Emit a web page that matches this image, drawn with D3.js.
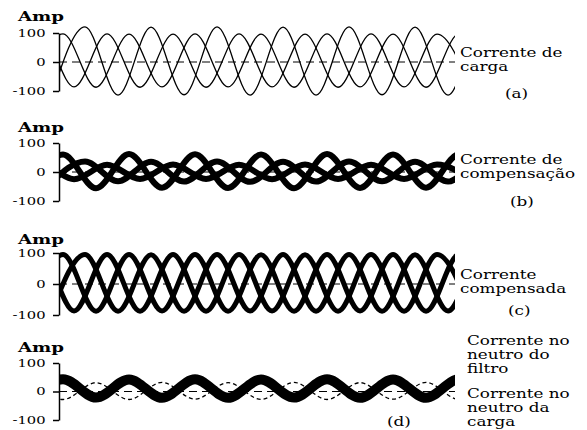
<!DOCTYPE html>
<html>
<head>
<meta charset="utf-8">
<script src="https://cdn.jsdelivr.net/npm/d3@7"></script>
<style>
body { margin: 0; background: #fff; }
svg { display: block; }
text { font-family: "DejaVu Serif", serif; fill: #000; }
</style>
</head>
<body>
<svg id="chart"></svg>
<script>
const width = 587;
const height = 430;

// electrical angle (deg) of each valley/peak; phases shifted by phaseShift
const extremaAngles = [-180, 0, 180, 360, 540, 720, 900, 1080, 1260, 1440, 1620, 1800, 1980, 2160, 2340];
const phaseShift = [0, 120, -120];

// (a) corrente de carga
const loadA = [-86, 97, -87, 96, -86, 97, -86, 96, -87, 97, -86, 96, -87, 97, -86];
const loadB = [-113, 121, -114, 120, -113, 121, -114, 120, -114, 121, -113, 120, -114, 121, -113];
const loadC = [-87, 96, -86, 97, -87, 96, -87, 97, -86, 96, -87, 97, -86, 96, -87];

// (b) corrente de compensação
const compA = [-55, 60, -56, 62, -54, 61, -55, 60, -56, 62, -55, 60, -54, 61, -55];
const compB = [-33, 36, -32, 35, -33, 36, -34, 35, -33, 36, -32, 35, -33, 36, -33];
const compC = [-24, 26, -25, 25, -24, 26, -24, 25, -25, 26, -24, 25, -24, 26, -25];

// (c) corrente compensada
const compdA = [-88, 95, -88, 95, -87, 95, -88, 94, -88, 95, -87, 95, -88, 95, -88];
const compdB = [-87, 95, -88, 94, -88, 95, -87, 95, -88, 95, -88, 94, -87, 95, -88];
const compdC = [-88, 94, -87, 95, -88, 95, -88, 95, -87, 94, -88, 95, -88, 95, -87];

// (d) neutro do filtro / neutro da carga
const filterNeutral = [-22, 43, -21, 42, -22, 43, -22, 42, -21, 43, -22, 42, -22, 43, -21];
const loadNeutral = [32, -28, 31, -28, 32, -27, 31, -28, 32, -28, 31, -27, 32, -28, 31];

const yTicks = [-100, 0, 100];

// the scanned figure is stretched horizontally, so is the text
const stretch = 1.4;

const panels = [
    {
        y100: 33, y0: 91, ampY: 21,
        series: [
            { values: loadA, shift: phaseShift[0], width: 1.3 },
            { values: loadB, shift: phaseShift[1], width: 1.3 },
            { values: loadC, shift: phaseShift[2], width: 1.3 }
        ],
        texts: [
            { x: 460, y: 57, t: "Corrente de" },
            { x: 460, y: 71, t: "carga" },
            { x: 505, y: 98, t: "(a)" }
        ]
    },
    {
        y100: 143, y0: 201, ampY: 132,
        series: [
            { values: compA, shift: phaseShift[0], width: 6 },
            { values: compB, shift: phaseShift[1], width: 6 },
            { values: compC, shift: phaseShift[2], width: 6 }
        ],
        texts: [
            { x: 460, y: 164, t: "Corrente de" },
            { x: 460, y: 178, t: "compensação" },
            { x: 510, y: 206, t: "(b)" }
        ]
    },
    {
        y100: 253, y0: 315, ampY: 244,
        series: [
            { values: compdA, shift: phaseShift[0], width: 5 },
            { values: compdB, shift: phaseShift[1], width: 5 },
            { values: compdC, shift: phaseShift[2], width: 5 }
        ],
        texts: [
            { x: 460, y: 279, t: "Corrente" },
            { x: 460, y: 293, t: "compensada" },
            { x: 508, y: 315, t: "(c)" }
        ]
    },
    {
        y100: 363, y0: 420, ampY: 352,
        series: [
            { values: loadNeutral, shift: 0, width: 1.3, dash: "4,3" },
            { values: filterNeutral, shift: 0, width: 10 }
        ],
        texts: [
            { x: 467, y: 345, t: "Corrente no" },
            { x: 467, y: 359, t: "neutro do" },
            { x: 467, y: 373, t: "filtro" },
            { x: 467, y: 398, t: "Corrente no" },
            { x: 467, y: 412, t: "neutro da" },
            { x: 467, y: 426, t: "carga" },
            { x: 387, y: 426, t: "(d)" }
        ]
    }
];

const svg = d3.select("#chart")
    .attr("width", width)
    .attr("height", height);

const x = d3.scaleLinear()
    .domain([-22, 2138])
    .range([59, 455]);

svg.append("clipPath")
    .attr("id", "clip")
    .append("rect")
    .attr("x", 59).attr("y", 0)
    .attr("width", 396).attr("height", height);

panels.forEach(p => {
    const y = d3.scaleLinear()
        .domain([-100, 100])
        .range([p.y0, p.y100]);

    const g = svg.append("g");

    // zero line
    g.append("line")
        .attr("x1", x.range()[0]).attr("x2", x.range()[1])
        .attr("y1", y(0)).attr("y2", y(0))
        .attr("stroke", "#000")
        .attr("stroke-width", 1)
        .attr("stroke-dasharray", "8,5");

    const line = d3.line()
        .x(d => x(d.angle))
        .y(d => y(d.value))
        .curve(d3.curveMonotoneX);

    p.series.forEach(s => {
        const pts = s.values.map((v, i) => ({ angle: extremaAngles[i] + s.shift, value: v }));
        g.append("path")
            .datum(pts)
            .attr("clip-path", "url(#clip)")
            .attr("fill", "none")
            .attr("stroke", "#000")
            .attr("stroke-width", s.width)
            .attr("stroke-dasharray", s.dash || null)
            .attr("d", line);
    });

    const axis = g.append("g")
        .attr("transform", `translate(${x.range()[0]},0)`)
        .call(d3.axisLeft(y).tickValues(yTicks).tickSize(6).tickSizeOuter(0).tickFormat(d => String(d)));
    axis.select(".domain").attr("stroke-width", 1.5);
    axis.selectAll(".tick line").attr("stroke-width", 1.5);
    axis.selectAll(".tick text")
        .attr("x", 0)
        .attr("transform", `translate(-13.5,0) scale(${stretch},1)`)
        .style("font-family", "DejaVu Serif")
        .style("font-size", "10.5px");

    g.append("text")
        .attr("transform", `translate(18,${p.ampY}) scale(${stretch},1)`)
        .style("font-size", "13px")
        .style("font-weight", "bold")
        .text("Amp");

    p.texts.forEach(t => {
        g.append("text")
            .attr("transform", `translate(${t.x},${t.y}) scale(${stretch},1)`)
            .style("font-size", "12px")
            .text(t.t);
    });
});
</script>
</body>
</html>
